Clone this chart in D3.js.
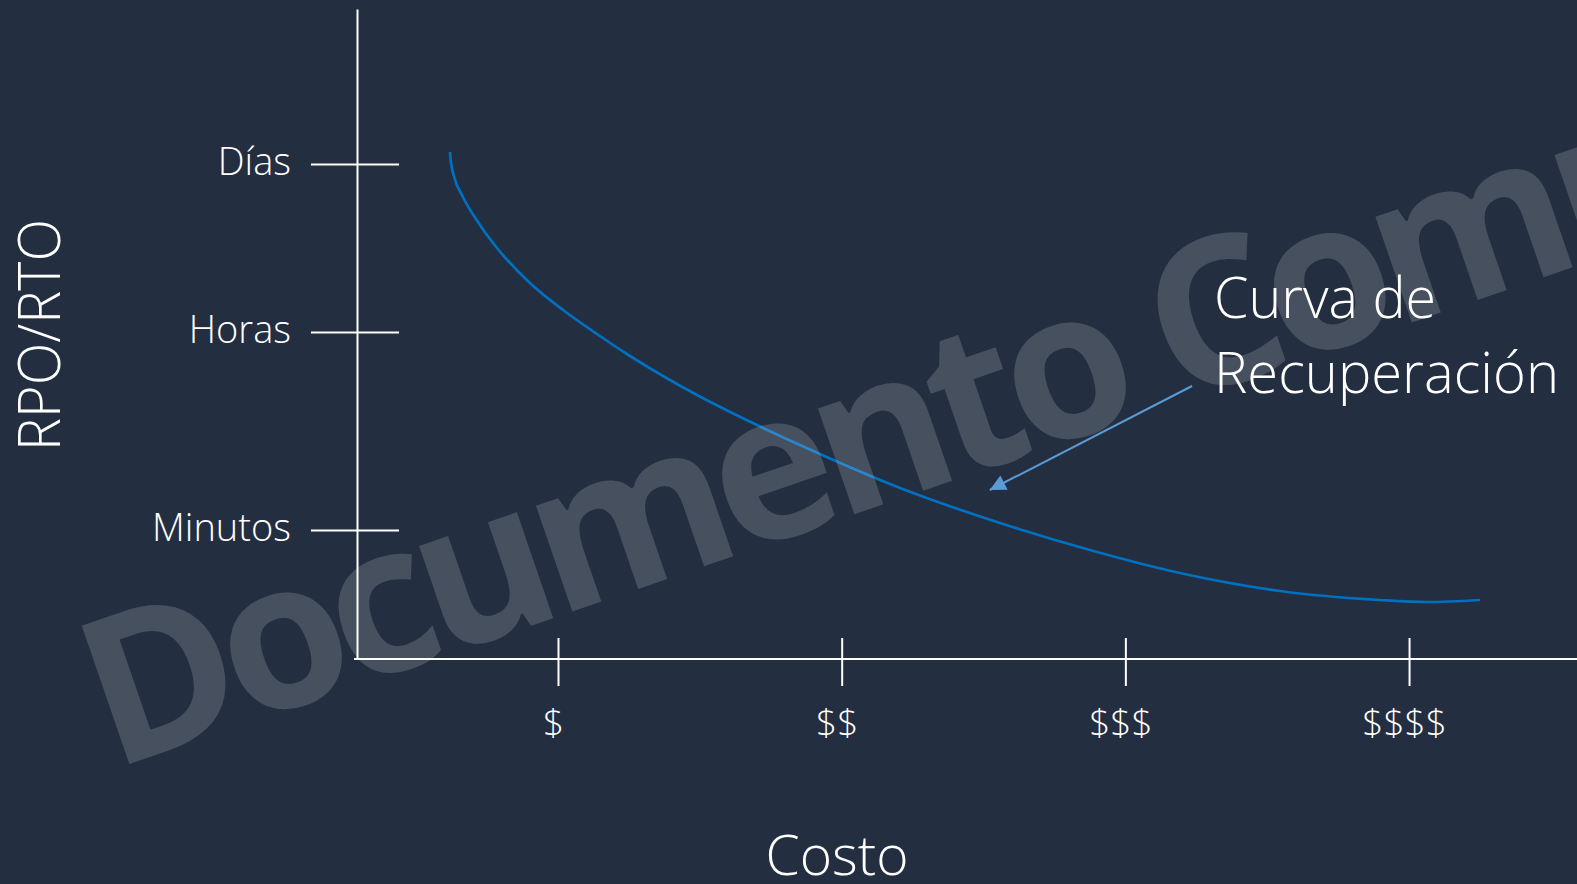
<!DOCTYPE html>
<html><head><meta charset="utf-8">
<script src="https://cdn.jsdelivr.net/npm/d3@7"></script>
<style>html,body{margin:0;padding:0;background:#232e40;overflow:hidden}</style>
</head><body>
<svg id="chart" width="1577" height="884"></svg>
<script>
// ---- data ----
const costTicks = [1, 2, 3, 4];
const costLabels = ["$", "$$", "$$$", "$$$$"];
const rpoTicks = [99, 65.4, 25.8];
const rpoLabels = ["Días", "Horas", "Minutos"];
const curveCost = [0.619, 0.623, 0.633, 0.665, 0.725, 0.785, 0.901, 1.018, 1.137, 1.254, 1.370, 1.490, 1.607, 1.853, 2.206, 2.558, 2.875, 3.192, 3.545, 3.897, 4.063, 4.250];
const curveRpo  = [101.4, 99.2, 96.6, 92.4, 86.8, 82.2, 75.2, 69.8, 65.0, 60.6, 56.6, 52.8, 49.4, 42.8, 34.2, 27.2, 21.8, 17.2, 13.6, 11.8, 11.4, 11.8];
const arrowCost = [3.235, 2.522];
const arrowRpo  = [54.6, 33.8];
const annotationLines = ["Curva de", "Recuperación"];
const xTitle = "Costo";
const yTitle = "RPO/RTO";
const watermarkText = "Documento Compartido";

// ---- layout ----
const W = 1577, H = 884;
const axisX = 357, axisY = 659;
const svg = d3.select("#chart");
const FONT = "'Open Sans', 'Noto Sans', sans-serif";

svg.append("rect").attr("width", W).attr("height", H).attr("fill", "#232e40");

const x = d3.scaleLinear().domain([0.2915, 4.592]).range([axisX, W]);
const y = d3.scaleLinear().domain([0, 130]).range([axisY, 9]);

// y axis
const yAxis = d3.axisLeft(y).tickValues(rpoTicks)
  .tickFormat((d, i) => rpoLabels[i]).tickSizeOuter(0);
const gy = svg.append("g").attr("transform", `translate(${axisX},0)`).call(yAxis);
gy.select(".domain").attr("stroke", "#ffffff").attr("stroke-width", 2);
gy.selectAll(".tick line").attr("x1", -46).attr("x2", 42)
  .attr("stroke", "#ffffff").attr("stroke-width", 2);
gy.selectAll(".tick text").attr("x", -66).attr("dy", 10)
  .attr("fill", "#ffffff").attr("font-family", FONT).attr("font-weight", 300)
  .attr("font-size", 38).attr("text-anchor", "end");

// x axis
const xAxis = d3.axisBottom(x).tickValues(costTicks)
  .tickFormat((d, i) => costLabels[i]).tickSizeOuter(0);
const gx = svg.append("g").attr("transform", `translate(0,${axisY})`).call(xAxis);
gx.select(".domain").attr("stroke", "#ffffff").attr("stroke-width", 2)
  .attr("d", `M${axisX - 3},0H${W}`);
gx.selectAll(".tick line").attr("y1", -21).attr("y2", 27)
  .attr("stroke", "#ffffff").attr("stroke-width", 2);
gx.selectAll(".tick text").attr("y", 77).attr("dy", 0).attr("dx", -5)
  .attr("fill", "#ffffff").attr("font-family", FONT).attr("font-weight", 300)
  .attr("font-size", 37);

// curve
const pts = curveCost.map((c, i) => [c, curveRpo[i]]);
svg.append("path").datum(pts)
  .attr("d", d3.line().x(d => x(d[0])).y(d => y(d[1])).curve(d3.curveMonotoneX))
  .attr("fill", "none").attr("stroke", "#0070c0").attr("stroke-width", 2.7);

// titles
svg.append("text").attr("x", 837).attr("y", 875).attr("text-anchor", "middle")
  .attr("fill", "#ffffff").attr("font-family", FONT).attr("font-weight", 300)
  .attr("font-size", 56).attr("textLength", 143).attr("lengthAdjust", "spacingAndGlyphs")
  .text(xTitle);
svg.append("text").attr("transform", "translate(60,335) rotate(-90)")
  .attr("text-anchor", "middle")
  .attr("fill", "#ffffff").attr("font-family", FONT).attr("font-weight", 300)
  .attr("font-size", 58).attr("textLength", 232).attr("lengthAdjust", "spacingAndGlyphs")
  .text(yTitle);

// annotation
const annW = [222, 345];
const annY = [318, 393];
annotationLines.forEach((t, i) => {
  svg.append("text").attr("x", 1214).attr("y", annY[i])
    .attr("fill", "#ffffff").attr("font-family", FONT).attr("font-weight", 300)
    .attr("font-size", 57).attr("textLength", annW[i]).attr("lengthAdjust", "spacingAndGlyphs")
    .text(t);
});
svg.append("defs").append("marker").attr("id", "ah")
  .attr("viewBox", "0 0 10 10").attr("refX", 10).attr("refY", 5)
  .attr("markerWidth", 9).attr("markerHeight", 8).attr("markerUnits", "strokeWidth")
  .attr("orient", "auto")
  .append("path").attr("d", "M0,0L10,5L0,10Z").attr("fill", "#5b9bd5");
svg.append("line")
  .attr("x1", x(arrowCost[0])).attr("y1", y(arrowRpo[0]))
  .attr("x2", x(arrowCost[1])).attr("y2", y(arrowRpo[1]))
  .attr("stroke", "#5b9bd5").attr("stroke-width", 2).attr("marker-end", "url(#ah)");

// watermark
svg.append("text").attr("transform", "translate(112,770) rotate(-19)")
  .attr("fill", "#ffffff").attr("fill-opacity", 0.165)
  .attr("font-family", FONT).attr("font-weight", 700).attr("font-size", 205)
  .attr("letter-spacing", -12)
  .text(watermarkText);
</script>
</body></html>
